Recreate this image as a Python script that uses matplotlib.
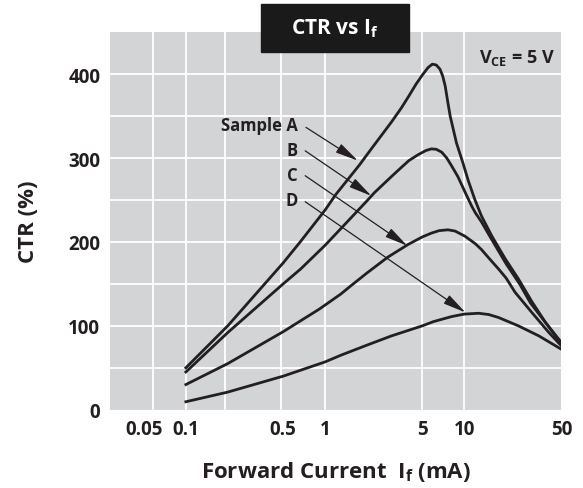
import matplotlib
matplotlib.use("Agg")
import matplotlib.pyplot as plt
from matplotlib.patches import Rectangle

# forward current (mA) and CTR (%)
A_IF = [0.1, 0.2, 0.5, 0.67, 1, 1.2, 1.77, 2.15, 3, 3.54, 4, 4.5, 5, 5.5, 5.9, 6.3, 6.7,
        7.0, 7.3, 7.6, 7.93, 8.8, 9.8, 10.7, 11.9, 13.3, 15.8, 19.7, 24.5, 30.6, 38.4, 50]
A_CTR = [50, 100, 175, 201, 238, 257, 292, 311, 343, 360, 374, 388, 399, 408, 412, 411, 406,
         398, 386, 368, 350, 318, 294, 273, 251, 231, 207, 180, 156, 129, 104, 80]

B_IF = [0.1, 0.2, 0.5, 0.67, 1, 1.3, 2, 2.27, 3, 3.54, 4, 4.66, 5.3, 5.8, 6.3, 6.9,
        7.5, 8.1, 9, 9.6, 10.3, 11.3, 12, 13.3, 15, 20, 25, 30, 40, 50]
B_CTR = [45, 92, 150, 168, 196, 216, 249, 259, 278, 289, 297, 304, 309, 311, 310.5, 307,
         300, 291, 278, 268, 257, 243, 235, 224, 209, 174, 150, 127, 100, 78]

C_IF = [0.1, 0.2, 0.5, 0.91, 1.3, 1.54, 2, 2.83, 3.95, 5, 5.8, 6.6, 7.65, 8.6, 10.1,
        12, 13.3, 15, 17.6, 20, 23.2, 30.6, 40.6, 50]
C_CTR = [30, 55, 93, 120, 138, 148, 163, 182, 197, 206, 210.5, 213.5, 214.5, 213, 207,
         198, 191, 181, 168, 157, 140, 116, 92, 76]

D_IF = [0.1, 0.2, 0.5, 1, 1.3, 2, 3, 5, 6, 8.1, 10, 12.7, 15, 17.6, 24.5, 34.4, 50]
D_CTR = [9.5, 21, 40, 57, 65, 77, 88, 100, 105, 111, 114, 115, 113.5, 110, 100, 88, 72]

SAMPLES = ["Sample A", "B", "C", "D"]
LABEL_XY = [(0.64, 339), (0.64, 309.5), (0.64, 280), (0.64, 250.6)]
ARROW_FROM = [(0.73, 336.6), (0.72, 308.7), (0.72, 279), (0.72, 248)]
ARROW_TO = [(1.72, 297), (2.15, 255), (3.9, 195.5), (10.2, 116)]

X_TICKS = [0.05, 0.1, 0.5, 1, 5, 10, 50]
X_TICKLABELS = ["0.05", "0.1", "0.5", "1", "5", "10", "50"]
X_GRID = [0.058, 0.1, 0.19, 0.48, 1, 5, 10]
Y_TICKS = [0, 100, 200, 300, 400]

FONT = "Open Sans"
plt.rcParams["font.family"] = [FONT, "DejaVu Sans"]
plt.rcParams["font.weight"] = "bold"
plt.rcParams["mathtext.fontset"] = "custom"
plt.rcParams["mathtext.bf"] = f"{FONT}:bold"
plt.rcParams["mathtext.rm"] = f"{FONT}:bold"

INK = "#231f20"
fig = plt.figure(figsize=(5.83, 4.89), dpi=100)
ax = fig.add_axes([0.1887, 0.1601, 0.7744, 0.7718])
ax.set_facecolor("#d3d4d6")
ax.set_xscale("log")
ax.set_xlim(0.0285, 50)
ax.set_ylim(0, 450)

for gx in X_GRID:
    ax.axvline(gx, color="white", lw=1.3, zorder=1)
for gy in range(50, 450, 50):
    ax.axhline(gy, color="white", lw=1.3, zorder=1)

for xs, ys in [(A_IF, A_CTR), (B_IF, B_CTR), (C_IF, C_CTR), (D_IF, D_CTR)]:
    ax.plot(xs, ys, color=INK, lw=2.0, solid_joinstyle="round", zorder=3)

for name, (lx, ly), start, end in zip(SAMPLES, LABEL_XY, ARROW_FROM, ARROW_TO):
    ax.text(lx, ly, name, ha="right", va="center", fontsize=12, color=INK, zorder=4)
    ax.annotate("", xy=end, xytext=start,
                arrowprops=dict(arrowstyle="-|>,head_length=1.0,head_width=0.22",
                                mutation_scale=14, color=INK, lw=0.9,
                                shrinkA=0, shrinkB=0), zorder=4)

ax.set_xticks(X_TICKS)
ax.set_xticklabels(X_TICKLABELS)
ax.xaxis.set_minor_locator(matplotlib.ticker.NullLocator())
ax.set_yticks(Y_TICKS)
ax.tick_params(length=0, labelsize=13.5, colors=INK, pad=7)
for s in ax.spines.values():
    s.set_visible(False)

ax.text(0.5, -0.162, r"Forward Current  $\mathbf{I}_\mathbf{f}$ (mA)", transform=ax.transAxes,
        ha="center", va="center", fontsize=16, color=INK)
ax.text(-0.18, 0.5, "CTR (%)", transform=ax.transAxes, rotation=90,
        ha="center", va="center", fontsize=16, color=INK)
ax.text(0.985, 0.935, r"$\mathbf{V}_\mathbf{CE}$ = 5 V", transform=ax.transAxes,
        ha="right", va="center", fontsize=13, color=INK)

# black title box
fig.patches.append(Rectangle((261 / 583, 1 - 53 / 489), 148 / 583, 48 / 489,
                             transform=fig.transFigure, color="#1a1a1a", zorder=5))
fig.text(335 / 583, 1 - 29 / 489, r"CTR vs $\mathbf{I}_\mathbf{f}$", ha="center", va="center",
         fontsize=15, color="white", zorder=6)

fig.savefig("out.png", dpi=100)
